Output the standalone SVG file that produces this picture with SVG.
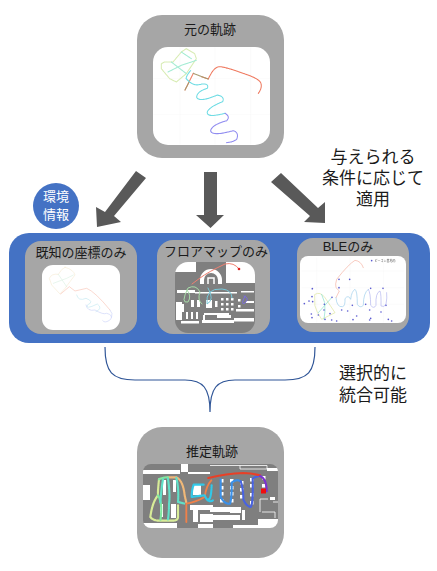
<svg xmlns="http://www.w3.org/2000/svg" width="437" height="571" viewBox="0 0 437 571">
<style>
text{font-family:"Liberation Sans","Noto Sans CJK JP",sans-serif;text-anchor:middle;fill:#1a1a1a}
.gray{fill:#a6a6a6}
.white{fill:#fff}
.lbl{font-size:13px}
.big{font-size:17px}
.arr{fill:#595959}
.t{fill:none;stroke-linecap:round;stroke-linejoin:round}
.grid{stroke:#f2f2f2;stroke-width:1;fill:none}
.wall{fill:#fff}
.out{fill:none;stroke:#fff;stroke-width:.8}
.soft{filter:url(#b)}
</style>
<defs>
<filter id="b" x="-5%" y="-5%" width="110%" height="110%"><feGaussianBlur stdDeviation=".3"/></filter>
<clipPath id="c3"><rect x="175" y="262" width="80" height="71" rx="13"/></clipPath>
<clipPath id="c5"><rect x="143" y="464" width="135" height="64" rx="8"/></clipPath>
</defs>
<rect x="9" y="233" width="421" height="110" rx="20" fill="#4472c4"/>
<g id="n-original">
<rect class="gray" x="137" y="15" width="147" height="143" rx="25"/>
<rect class="white" x="153" y="47" width="117" height="98" rx="15"/>
<g transform="translate(130,10) scale(.3333)" class="soft">
<path class="grid" d="M150 112V404M255 112V404M362 112V404M70 205H420M70 313H420"/>
<g class="t" stroke-width="3.200" stroke-dasharray="3 1.500">
<path stroke="#ef7a60" d="M385 250Q398 232 392 218Q385 205 345 192Q285 170 268 170Q250 172 235 207L215 200M190 190L165 240"/>
<path stroke="#a89a70" d="M190 190L215 200L235 207M178 215L165 240"/>
<path stroke="#6fdce4" d="M178 215L168 205Q172 192 182 182M168 205Q190 232 215 222Q238 220 232 235Q200 245 200 262Q208 278 262 255Q285 260 278 275Q240 290 232 305Q228 325 285 310"/>
<path stroke="#8f8bf0" d="M285 310Q302 320 290 332Q245 345 242 362Q245 380 310 362Q328 368 320 388Q310 396 290 398"/>
<path stroke="#d8ecb4" d="M169 116L194 131L199 146L169 191L139 216L119 206L94 176L94 161L104 156L129 156L154 126Z"/>
<path stroke="#a4ecd4" d="M114 186L154 166L199 151M124 156L169 191M154 126L184 146"/>
</g>
</g>
<text class="lbl" x="210" y="34">元の軌跡</text>
</g>
<g id="connectors">
<polygon class="arr" points="136,171 146,178 114,216 121,222 97,227 96,207 105,212"/>
<polygon class="arr" points="204,172 217,172 217,215 224,215 210.500,228 196,215 204,215"/>
<polygon class="arr" points="271,182 281,173 318,208 325,202 325,223 304,222 310,216"/>
<path d="M105 347C105 372 112 380 135 380H185C203 380 210 388 210 412C210 388 217 380 235 380H285C308 380 315 372 315 347" fill="none" stroke="#2f5597" stroke-width="1.200"/>
</g>
<g id="n-env">
<circle cx="56" cy="206" r="23" fill="#4472c4"/>
<text x="56" y="201" font-size="13" style="fill:#fff">環境</text>
<text x="56" y="219" font-size="13" style="fill:#fff">情報</text>
</g>
<g id="n-note">
<text class="big"><tspan x="373" y="163">与えられる</tspan><tspan x="373" y="184">条件に応じて</tspan><tspan x="373" y="205">適用</tspan></text>
</g>
<g id="n-known">
<rect class="gray" x="25" y="241" width="112" height="93" rx="16"/>
<rect class="white" x="42" y="265" width="78" height="65" rx="11"/>
<g transform="translate(10,230) scale(.3333)" class="t soft" stroke-width="1.800">
<path stroke="#f5ead0" d="M165 112Q190 118 195 135L165 175L150 192L125 165L118 145Q125 130 145 133Q155 115 165 112Z"/>
<path stroke="#d8f0e0" d="M130 160L170 145L190 135M145 133L170 170"/>
<path stroke="#f8c0b0" d="M152 192L178 170L195 183L230 175Q255 185 300 240"/>
<path stroke="#c0e8f0" d="M200 195Q205 215 228 205Q255 215 232 225Q225 240 262 222Q280 235 258 245"/>
<path stroke="#c8d0f8" d="M228 225Q232 245 255 240Q280 255 290 250Q310 255 302 268Q285 282 278 272M300 240Q310 250 305 262"/>
</g>
<text class="lbl" x="81" y="257">既知の座標のみ</text>
</g>
<g id="n-floor">
<rect class="gray" x="157" y="240" width="113" height="94" rx="16"/>
<g clip-path="url(#c3)" class="soft">
<rect x="175" y="262" width="80" height="71" fill="#7f7f7f"/>
<rect class="wall" x="175" y="262" width="21" height="10"/>
<rect class="wall" x="226" y="262" width="29" height="21"/>
<path d="M202 284V280A9 9 0 0 1 220 280V284" fill="none" stroke="#fff" stroke-width="4"/>
<path d="M208 284V278H214V284" fill="none" stroke="#fff" stroke-width="1.500"/>
<g class="wall">
<rect x="177" y="290" width="18" height="3"/><rect x="195" y="292" width="42" height="1.500"/><rect x="241" y="291" width="13" height="1.500"/>
<rect x="176" y="302" width="6" height="18"/><rect x="182" y="304" width="2" height="8"/>
<rect x="191" y="300" width="3" height="7"/><rect x="197" y="300" width="3" height="7"/>
<rect x="206" y="300" width="6" height="8"/>
<rect x="221" y="298" width="2.500" height="2.500"/><rect x="226" y="298" width="2.500" height="2.500"/><rect x="231" y="298" width="2.500" height="2.500"/>
<rect x="221" y="303" width="2.500" height="2.500"/><rect x="226" y="303" width="2.500" height="2.500"/><rect x="231" y="303" width="2.500" height="2.500"/>
<rect x="221" y="308" width="2.500" height="2.500"/><rect x="226" y="308" width="2.500" height="2.500"/><rect x="231" y="308" width="2.500" height="2.500"/>
<rect x="215" y="301" width="2.500" height="6"/><rect x="238" y="299" width="2.500" height="2.500"/><rect x="238" y="305" width="2.500" height="2.500"/>
<rect x="186" y="312" width="2" height="7"/><rect x="191" y="312" width="2" height="7"/><rect x="196" y="312" width="2" height="7"/>
<rect x="181" y="321" width="18" height="2.500"/>
<rect x="204" y="313" width="25" height="2"/><rect x="203" y="315" width="2" height="7"/><rect x="217" y="315" width="14" height="3"/>
<rect x="202" y="320" width="32" height="3"/><rect x="234" y="318" width="20" height="3.500"/><rect x="236" y="309" width="18" height="2.500"/><rect x="246" y="301" width="8" height="2"/>
</g>
<g class="t" stroke-width="1">
<path stroke="#f08070" d="M239 269Q234 262 225 264Q208 272 200 278L192 284"/>
<path stroke="#a8dca8" d="M187 290Q192 296 188 302Q180 304 188 288Q196 284 200 292Q197 300 202 304"/>
<path stroke="#78c8d8" d="M208 288Q215 300 207 304Q205 288 222 289Q232 290 232 298"/>
<path stroke="#7b6ee0" d="M244 296Q250 298 245 303Q240 306 245 296"/>
</g>
<circle cx="239" cy="269" r="1.300" fill="#e02020"/>
</g>
<text class="lbl" x="216" y="256">フロアマップのみ</text>
</g>
<g id="n-ble">
<rect class="gray" x="297" y="238" width="112" height="94" rx="16"/>
<rect class="white" x="300" y="256" width="106" height="67" rx="8"/>
<g transform="translate(300,256) scale(.3333)" class="soft">
<path class="grid" d="M5 45H312M5 95H312M5 145H312M50 5V200M150 5V200M250 5V200"/>
<circle cx="215" cy="14" r="2.500" fill="#5a5ad0"/>
<text x="255" y="17" font-size="9" style="fill:#555">ビーコン基地局</text>
<g class="t" stroke-width="2">
<path stroke="#f4b0a0" d="M190 35Q183 15 165 13Q145 25 110 70Q105 85 108 95L118 105L108 125"/>
<path stroke="#dce49c" d="M45 115Q60 105 75 125L105 170Q85 180 65 190Q50 170 45 150Z"/>
<path stroke="#86e0cc" d="M65 115Q78 140 75 165L72 190M95 125L55 170"/>
<path stroke="#9ccdec" d="M108 125Q110 155 128 152Q136 150 135 128Q145 115 152 130Q155 105 165 100Q172 105 172 145Q180 158 190 148Q190 110 205 100"/>
<path stroke="#b0b4ee" d="M205 100Q212 110 212 148Q222 160 228 148Q226 110 240 105Q244 115 243 150Q252 155 258 145Q262 125 260 110"/>
</g>
<g fill="#5a5ad0">
<circle cx="37" cy="98" r="2.500"/><circle cx="36" cy="122" r="2.500"/><circle cx="27" cy="135" r="2.500"/><circle cx="13" cy="143" r="2.500"/><circle cx="38" cy="137" r="2.500"/><circle cx="73" cy="145" r="2.500"/><circle cx="96" cy="124" r="2.500"/><circle cx="117" cy="70" r="2.500"/><circle cx="149" cy="70" r="2.500"/><circle cx="117" cy="95" r="2.500"/><circle cx="212" cy="97" r="2.500"/><circle cx="249" cy="97" r="2.500"/><circle cx="157" cy="148" r="2.500"/><circle cx="125" cy="162" r="2.500"/><circle cx="143" cy="165" r="2.500"/><circle cx="72" cy="162" r="2.500"/><circle cx="34" cy="174" r="2.500"/><circle cx="55" cy="177" r="2.500"/><circle cx="36" cy="185" r="2.500"/><circle cx="75" cy="190" r="2.500"/><circle cx="95" cy="192" r="2.500"/><circle cx="110" cy="195" r="2.500"/><circle cx="159" cy="191" r="2.500"/><circle cx="170" cy="180" r="2.500"/><circle cx="209" cy="192" r="2.500"/><circle cx="212" cy="187" r="2.500"/><circle cx="209" cy="162" r="2.500"/><circle cx="243" cy="168" r="2.500"/><circle cx="265" cy="190" r="2.500"/><circle cx="275" cy="195" r="2.500"/><circle cx="258" cy="148" r="2.500"/><circle cx="197" cy="145" r="2.500"/><circle cx="90" cy="173" r="2.500"/>
</g>
</g>
<text class="lbl" x="348" y="251">BLEのみ</text>
</g>
<g id="n-est">
<rect class="gray" x="137" y="427" width="147" height="131" rx="25"/>
<g clip-path="url(#c5)" class="soft">
<rect x="143" y="464" width="135" height="64" fill="#7f7f7f"/>
<g class="wall">
<rect x="143" y="470" width="37" height="4"/><rect x="181" y="464" width="7" height="8"/><rect x="188" y="472" width="22" height="2"/>
<rect x="143" y="485" width="7" height="15"/><rect x="163" y="480" width="3" height="15"/><rect x="173" y="480" width="3" height="12"/>
<rect x="160" y="504" width="3" height="13"/><rect x="171" y="504" width="5" height="14"/>
<rect x="143" y="523" width="34" height="7"/><rect x="190" y="505" width="23" height="5"/><rect x="193" y="510" width="5" height="12"/>
<rect x="200" y="514" width="13" height="8"/><rect x="198" y="524" width="15" height="6"/><rect x="193" y="485" width="8" height="10"/>
<rect x="210" y="507" width="20" height="5"/><rect x="210" y="515" width="30" height="5"/><rect x="230" y="507" width="11" height="6"/>
<rect x="233" y="525" width="27" height="5"/><rect x="258" y="519" width="20" height="11"/><rect x="242" y="510" width="3" height="10"/>
<rect x="220" y="479" width="3.500" height="3.500"/><rect x="220" y="486" width="3.500" height="3.500"/><rect x="220" y="492" width="3.500" height="3.500"/><rect x="220" y="499" width="3.500" height="3.500"/>
<rect x="230" y="479" width="3.500" height="3.500"/><rect x="230" y="486" width="3.500" height="3.500"/><rect x="230" y="492" width="3.500" height="3.500"/><rect x="230" y="499" width="3.500" height="3.500"/>
<rect x="240" y="481" width="3.500" height="3.500"/><rect x="240" y="488" width="3.500" height="3.500"/><rect x="240" y="495" width="3.500" height="3.500"/>
<rect x="250" y="478" width="3.500" height="3.500"/><rect x="250" y="484" width="3.500" height="3.500"/><rect x="250" y="493" width="3.500" height="3.500"/><rect x="250" y="501" width="3.500" height="3.500"/>
<rect x="262" y="476" width="3.500" height="3.500"/><rect x="262" y="484" width="3.500" height="3.500"/>
<rect x="270" y="497" width="5" height="3"/><rect x="267" y="468" width="11" height="3"/>
</g>
<path class="out" d="M210 465.500H240V469H267V465.500H240M260 512V499H268M273 502H278M262 512H275V518"/>
<g transform="translate(143,462) scale(.3333)" class="t" stroke-dasharray="3.500 2" stroke-width="6.500">
<path stroke="#d8ec98" d="M48 52Q44 90 45 100Q28 120 22 165Q30 176 50 176H90Q105 175 105 165V130"/>
<path stroke="#f0b878" d="M75 46H100Q120 55 125 100L130 122"/>
<path stroke="#80e8a0" d="M48 52Q60 46 75 46M45 100Q60 125 52 175"/>
<path stroke="#60e0c8" d="M60 52Q55 80 52 122M75 50Q82 100 78 125Q78 150 75 172M100 48Q108 80 105 120L125 125"/>
<path stroke="#f08048" stroke-dasharray="none" stroke-width="5.500" d="M130 180V125Q160 120 185 105Q190 70 205 55"/>
<path stroke="#30c8e8" d="M182 68H152Q146 85 146 105Q165 102 185 100Q195 125 210 115"/>
</g>
<g transform="translate(210,462) scale(.3333)" class="t" stroke-dasharray="3.500 2" stroke-width="6.500">
<path stroke="#30c8e8" d="M-5 112Q3 115 5 70"/>
<path stroke="#3a90e8" d="M32 52V105Q45 128 60 125Q66 105 65 62Q80 50 92 58"/>
<path stroke="#4a64e0" d="M92 58Q100 80 100 112Q108 132 122 135Q130 125 128 50Q135 44 150 42"/>
<path stroke="#e84028" stroke-dasharray="none" d="M-5 48Q50 35 100 33Q130 34 150 40"/>
<path stroke="#7a30d0" d="M150 42Q170 50 170 90"/>
</g>
<rect x="261" y="488.500" width="5" height="5" fill="#f01010"/>
</g>
<text class="lbl" x="212" y="456">推定軌跡</text>
</g>
<g id="n-note2">
<text class="big"><tspan x="373" y="379">選択的に</tspan><tspan x="373" y="401">統合可能</tspan></text>
</g>
</svg>
